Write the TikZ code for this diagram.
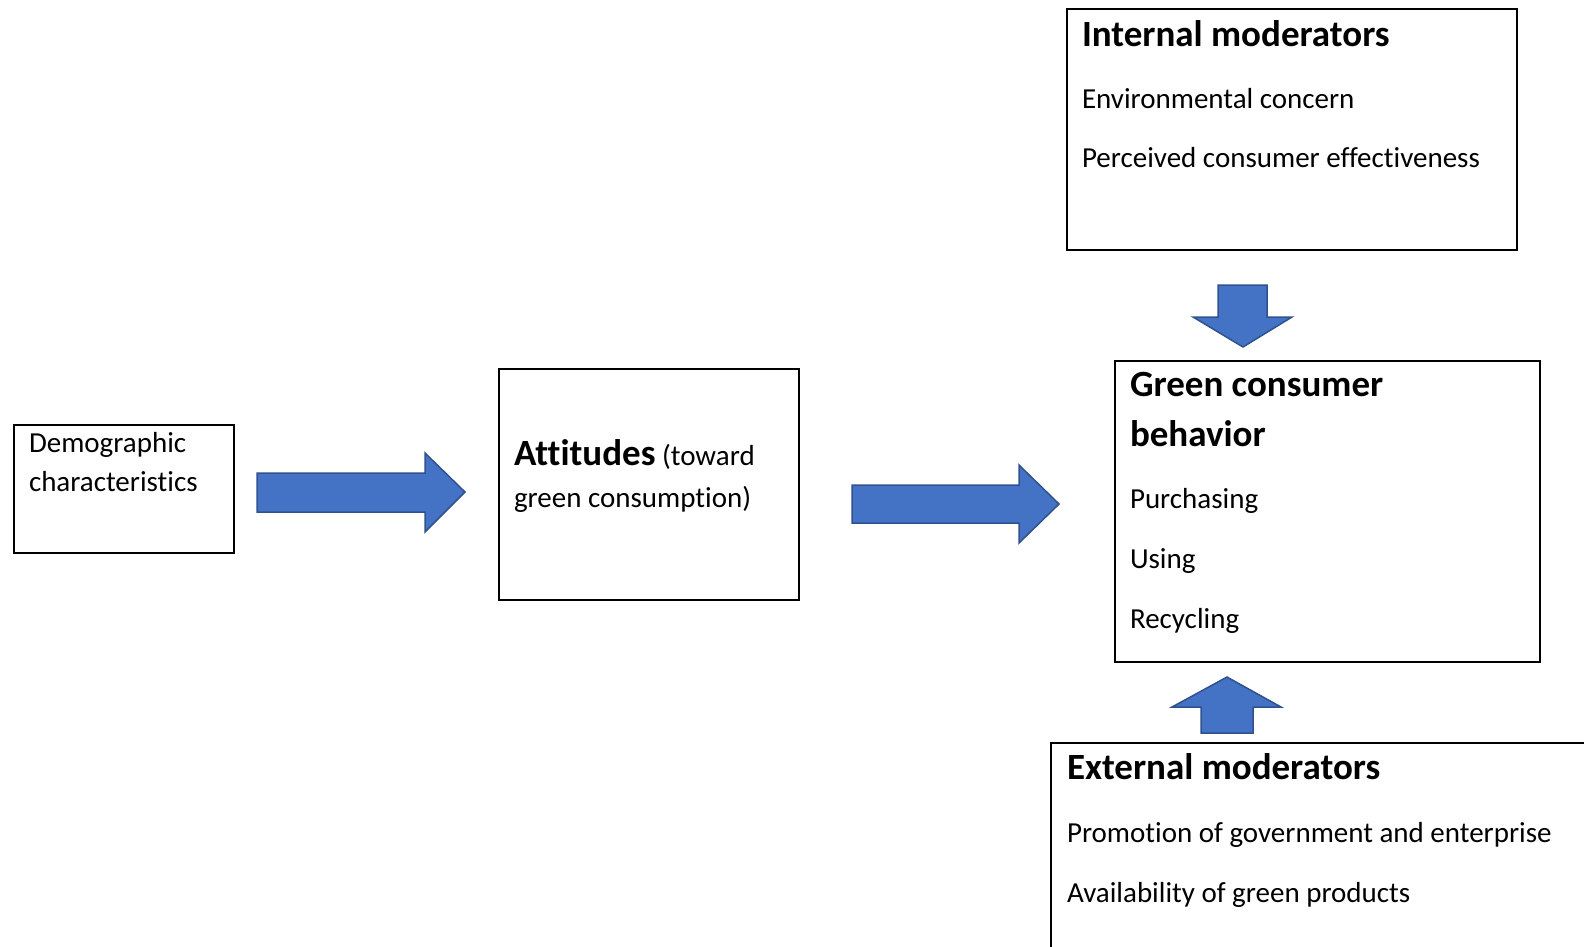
\documentclass[tikz,border=0pt]{standalone}
\usepackage{fontspec}
\setmainfont[Ligatures=NoCommon]{Carlito}
\definecolor{arrowblue}{HTML}{4472C4}
\definecolor{arrowedge}{HTML}{2F528F}
\newcommand{\bodyfont}{\fontsize{29}{35}\selectfont}
\newcommand{\headfont}{\fontsize{37}{44}\selectfont\bfseries}

\begin{document}
\begin{tikzpicture}
[x=1pt, y=-1pt, font=\bodyfont, line width=2pt,
frame/.style={draw, rectangle, anchor=north west, inner sep=0pt},
txt/.style={anchor=base west, inner sep=0pt},
headtxt/.style={txt, font=\headfont},
blockarrow/.style={fill=arrowblue, draw=arrowedge, line width=1.5pt, line join=miter}]

\useasboundingbox (0,0) rectangle (1584,946);
\clip (0,0) rectangle (1584,946);

% boxes
\node[frame, minimum width=220pt, minimum height=128pt] (demo) at (13,424) {};
\node[frame, minimum width=300pt, minimum height=231pt] (attitude) at (498,368) {};
\node[frame, minimum width=450pt, minimum height=241pt] (intmod) at (1066,8) {};
\node[frame, minimum width=425pt, minimum height=301pt] (behav) at (1114,360) {};
\node[frame, minimum width=700pt, minimum height=300pt] (extmod) at (1050,742) {};

% texts
\node[txt] (demo1) at (28,452) {Demographic};
\node[txt] (demo2) at (28,491) {characteristics};

\node[txt] (att1) at (513,465) {{\headfont Attitudes} (toward};
\node[txt] (att2) at (513,507) {green consumption)};

\node[headtxt] (int0) at (1081,46) {Internal moderators};
\node[txt] (int1) at (1081,108) {Environmental concern};
\node[txt] (int2) at (1081,167) {Perceived consumer effectiveness};

\node[headtxt] (beh0) at (1129,396) {Green consumer};
\node[headtxt] (beh1) at (1129,446) {behavior};
\foreach \t [count=\i] in {Purchasing, Using, Recycling} {
    \node[txt] (beh\i x) at (1129,448+60*\i) {\t};
}

\node[headtxt] (ext0) at (1066,779) {External moderators};
\node[txt] (ext1) at (1066,842) {Promotion of government and enterprise};
\node[txt] (ext2) at (1066,902) {Availability of green products};

% block arrows
\filldraw[blockarrow] (257,473) -- (425,473) -- (425,453) -- (465,492)
    -- (425,532) -- (425,512) -- (257,512) -- cycle;
\filldraw[blockarrow] (852,485) -- (1019,485) -- (1019,465) -- (1059,504)
    -- (1019,543) -- (1019,523) -- (852,523) -- cycle;
\filldraw[blockarrow] (1218,285) -- (1267,285) -- (1267,317) -- (1292,317)
    -- (1243,347) -- (1193,317) -- (1218,317) -- cycle;
\filldraw[blockarrow] (1201,733) -- (1201,707) -- (1172,707) -- (1227,677)
    -- (1281,707) -- (1253,707) -- (1253,733) -- cycle;

\end{tikzpicture}
\end{document}
